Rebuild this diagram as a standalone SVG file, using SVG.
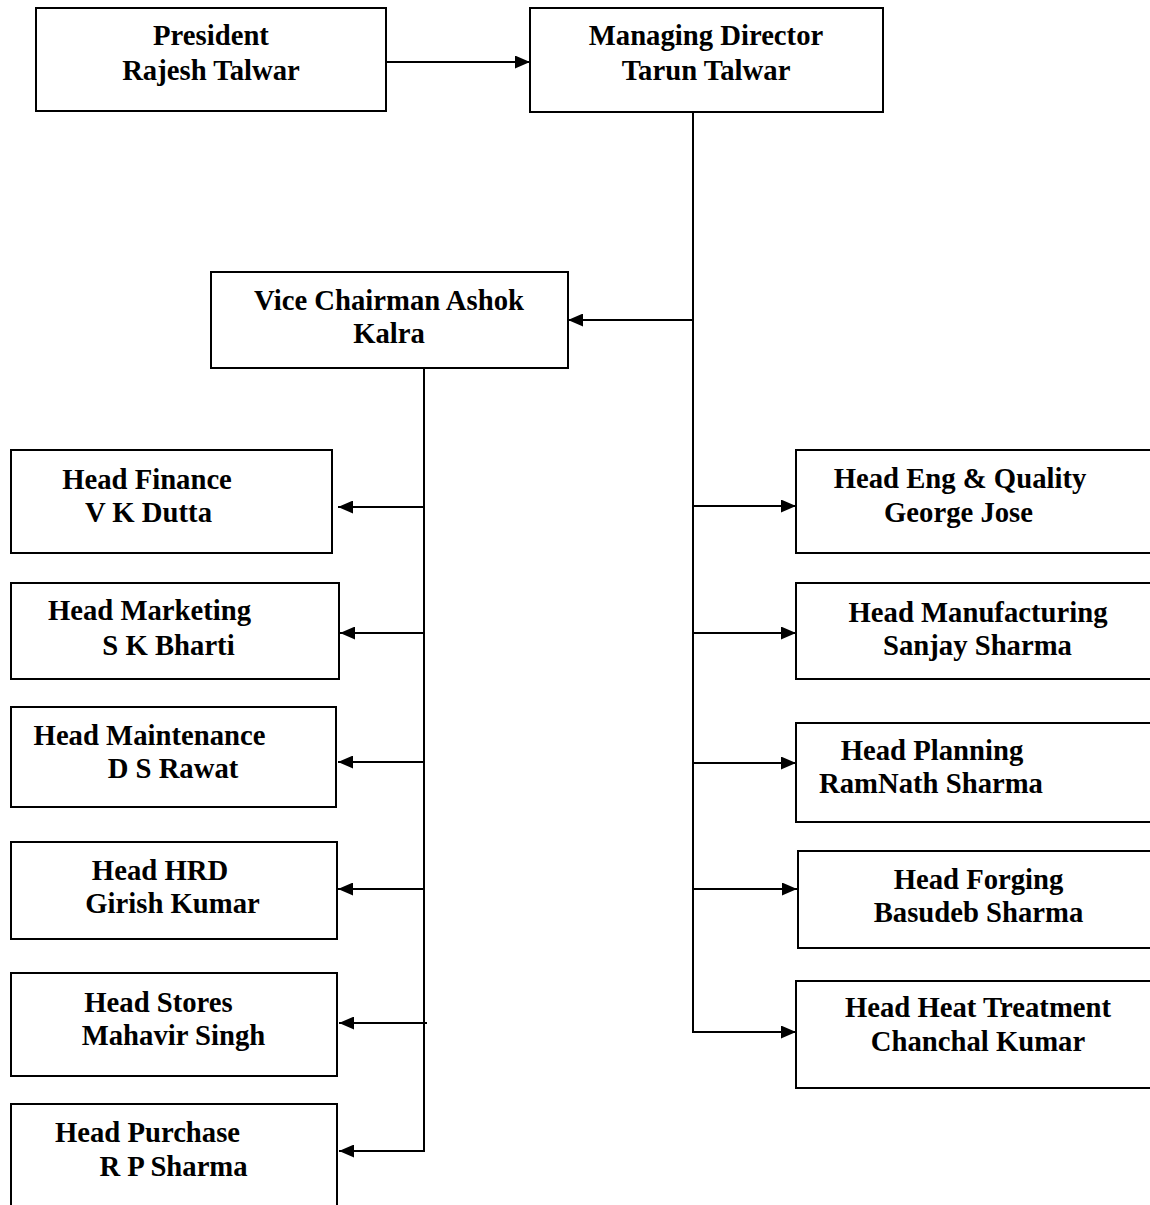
<svg xmlns="http://www.w3.org/2000/svg" width="1150" height="1205" viewBox="0 0 1150 1205">
<defs>
<marker id="ah" viewBox="0 0 15 13" refX="15" refY="6.5" markerWidth="15" markerHeight="13" markerUnits="userSpaceOnUse" orient="auto">
<path d="M0,0 L15,6.5 L0,13 z" fill="#000"/>
</marker>
<style>
rect{fill:#fff;stroke:#000;stroke-width:2}
text{font-family:"Liberation Serif","Times New Roman",serif;font-weight:bold;font-size:28.7px;fill:#000;text-anchor:middle}
.c{fill:none;stroke:#000;stroke-width:2}
.a{marker-end:url(#ah)}
</style>
</defs>
<rect x="0" y="0" width="1150" height="1205" style="fill:#fff;stroke:none"/>
<g id="connectors">
<line class="c a" x1="386" y1="62" x2="530" y2="62"/>
<line class="c" x1="693" y1="112" x2="693" y2="1033"/>
<line class="c a" x1="693" y1="320" x2="568" y2="320"/>
<line class="c" x1="424" y1="368" x2="424" y2="1152"/>
<line class="c a" x1="424" y1="507" x2="338" y2="507"/>
<line class="c a" x1="424" y1="633" x2="340" y2="633"/>
<line class="c a" x1="424" y1="762" x2="338" y2="762"/>
<line class="c a" x1="424" y1="889" x2="338" y2="889"/>
<line class="c a" x1="427" y1="1023" x2="339" y2="1023"/>
<line class="c a" x1="425" y1="1151" x2="339" y2="1151"/>
<line class="c a" x1="693" y1="506" x2="796" y2="506"/>
<line class="c a" x1="693" y1="633" x2="796" y2="633"/>
<line class="c a" x1="693" y1="763" x2="796" y2="763"/>
<line class="c a" x1="693" y1="889" x2="797" y2="889"/>
<line class="c a" x1="692" y1="1032" x2="796" y2="1032"/>
</g>
<g id="president">
<rect x="36" y="8" width="350" height="103"/>
<text x="211" y="45">President</text>
<text x="211" y="80">Rajesh Talwar</text>
</g>
<g id="managing-director">
<rect x="530" y="8" width="353" height="104"/>
<text x="706" y="45">Managing Director</text>
<text x="706" y="80">Tarun Talwar</text>
</g>
<g id="vice-chairman">
<rect x="211" y="272" width="357" height="96"/>
<text x="389" y="310">Vice Chairman Ashok</text>
<text x="389" y="343">Kalra</text>
</g>
<g id="head-finance">
<rect x="11" y="450" width="321" height="103"/>
<text x="147" y="489">Head Finance</text>
<text x="148.5" y="522">V K Dutta</text>
</g>
<g id="head-marketing">
<rect x="11" y="583" width="328" height="96"/>
<text x="149.5" y="620">Head Marketing</text>
<text x="168.5" y="655">S K Bharti</text>
</g>
<g id="head-maintenance">
<rect x="11" y="707" width="325" height="100"/>
<text x="149.5" y="745">Head Maintenance</text>
<text x="173" y="778">D S Rawat</text>
</g>
<g id="head-hrd">
<rect x="11" y="842" width="326" height="97"/>
<text x="160" y="880">Head HRD</text>
<text x="172.5" y="913">Girish Kumar</text>
</g>
<g id="head-stores">
<rect x="11" y="973" width="326" height="103"/>
<text x="158.5" y="1012">Head Stores</text>
<text x="173.5" y="1045">Mahavir Singh</text>
</g>
<g id="head-purchase">
<rect x="11" y="1104" width="326" height="112"/>
<text x="147.5" y="1142">Head Purchase</text>
<text x="173.5" y="1176">R P Sharma</text>
</g>
<g id="head-eng-quality">
<rect x="796" y="450" width="358" height="103"/>
<text x="960" y="488">Head Eng &amp; Quality</text>
<text x="958.5" y="522">George Jose</text>
</g>
<g id="head-manufacturing">
<rect x="796" y="583" width="358" height="96"/>
<text x="978" y="622">Head Manufacturing</text>
<text x="977.5" y="655">Sanjay Sharma</text>
</g>
<g id="head-planning">
<rect x="796" y="723" width="358" height="99"/>
<text x="932" y="760">Head Planning</text>
<text x="931" y="793">RamNath Sharma</text>
</g>
<g id="head-forging">
<rect x="798" y="851" width="356" height="97"/>
<text x="978.5" y="889">Head Forging</text>
<text x="978.5" y="922">Basudeb Sharma</text>
</g>
<g id="head-heat-treatment">
<rect x="796" y="981" width="358" height="107"/>
<text x="978" y="1017">Head Heat Treatment</text>
<text x="978" y="1051">Chanchal Kumar</text>
</g>
</svg>
